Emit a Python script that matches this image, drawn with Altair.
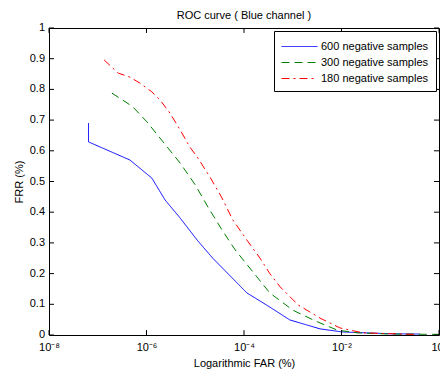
import altair as alt
import pandas as pd

series = ["600 negative samples", "300 negative samples", "180 negative samples"]
colors = ["#0000ff", "#008000", "#ff0000"]
dashes = [[1, 0], [8, 5], [8, 4, 2, 4]]

# log10(FAR) and FRR
blue_logfar = [-7.19, -7.19, -6.34, -5.89, -5.62, -5.31, -4.96, -4.64, -3.94, -3.47, -3.06, -2.44, -1.99, -1.0, -0.39]
blue_frr = [0.69, 0.629, 0.57, 0.511, 0.44, 0.381, 0.309, 0.25, 0.137, 0.091, 0.049, 0.02, 0.01, 0.004, 0.003]

green_logfar = [-6.71, -6.4, -6.28, -5.99, -5.66, -5.31, -5.0, -4.74, -4.45, -4.18, -3.47, -3.0, -2.54, -2.09, -1.68, -1.0, 0.0]
green_frr = [0.788, 0.756, 0.743, 0.694, 0.629, 0.56, 0.489, 0.417, 0.342, 0.277, 0.137, 0.081, 0.046, 0.016, 0.007, 0.003, 0.002]

red_logfar = [-6.87, -6.58, -6.34, -6.13, -5.89, -5.72, -5.52, -5.31, -5.11, -4.96, -4.7, -4.45, -4.23, -3.94, -3.67, -3.47, -3.26, -2.89, -2.44, -2.03, -1.56, -0.5]
red_frr = [0.896, 0.853, 0.84, 0.82, 0.792, 0.765, 0.723, 0.668, 0.612, 0.58, 0.515, 0.446, 0.375, 0.309, 0.25, 0.2, 0.157, 0.098, 0.055, 0.023, 0.007, 0.002]

x_tick_exps = [-8, -6, -4, -2, 0]
y_ticks = [0.0, 0.1, 0.2, 0.3, 0.4, 0.5, 0.6, 0.7, 0.8, 0.9, 1.0]
y_labels = ["0", "0.1", "0.2", "0.3", "0.4", "0.5", "0.6", "0.7", "0.8", "0.9", "1"]
sup = {"-8": "10⁻⁸", "-6": "10⁻⁶", "-4": "10⁻⁴", "-2": "10⁻²", "0": "10⁰"}

rows = []
for name, lx, fy in zip(series, [blue_logfar, green_logfar, red_logfar], [blue_frr, green_frr, red_frr]):
    for i, (a, b) in enumerate(zip(lx, fy)):
        rows.append({"series": name, "far": 10 ** a, "frr": b, "idx": i})
df = pd.DataFrame(rows)

x_ticks = [10.0 ** e for e in x_tick_exps]
expr = "''"
for e in x_tick_exps:
    expr = f"round(log(datum.value)/LN10)=={e} ? '{sup[str(e)]}' : ({expr})"

font = "Liberation Sans"
xscale = alt.Scale(type="log", domain=[1e-8, 1], nice=False)
yscale = alt.Scale(domain=[0, 1], nice=False)
xaxis = alt.Axis(values=x_ticks, labelExpr=expr, tickSize=0, domain=False, grid=False,
                 labelPadding=6, titlePadding=5, labelFlush=False, labelOverlap=False)
yaxis = alt.Axis(labels=False, ticks=False, domain=False, grid=False, titlePadding=25)
xtitle = "Logarithmic FAR (%)"
ytitle = "FRR (%)"

lines = alt.Chart(df).mark_line(strokeWidth=1, clip=True).encode(
    x=alt.X("far:Q", scale=xscale, axis=xaxis, title=xtitle),
    y=alt.Y("frr:Q", scale=yscale, axis=yaxis, title=ytitle),
    color=alt.Color("series:N", scale=alt.Scale(domain=series, range=colors),
                    legend=alt.Legend(title=None)),
    strokeDash=alt.StrokeDash("series:N", scale=alt.Scale(domain=series, range=dashes),
                              legend=alt.Legend(title=None)),
    order="idx:Q",
)

xt = pd.DataFrame({"far": x_ticks})
yt = pd.DataFrame({"frr": y_ticks, "label": y_labels})

tick_b = alt.Chart(xt).mark_rule(color="black", strokeWidth=1).encode(
    x=alt.X("far:Q", scale=xscale, axis=xaxis, title=xtitle), y=alt.datum(0), y2=alt.datum(0.016))
tick_t = alt.Chart(xt).mark_rule(color="black", strokeWidth=1).encode(
    x=alt.X("far:Q", scale=xscale, axis=xaxis, title=xtitle), y=alt.datum(1), y2=alt.datum(0.984))
tick_l = alt.Chart(yt).mark_rule(color="black", strokeWidth=1).encode(
    y=alt.Y("frr:Q", scale=yscale, axis=yaxis, title=ytitle), x=alt.datum(1e-8), x2=alt.datum(1.267e-8))
tick_r = alt.Chart(yt).mark_rule(color="black", strokeWidth=1).encode(
    y=alt.Y("frr:Q", scale=yscale, axis=yaxis, title=ytitle), x=alt.datum(1.0), x2=alt.datum(0.789))
ylab = alt.Chart(yt).mark_text(align="right", baseline="middle", dx=-4, font=font,
                               fontSize=11, color="black").encode(
    y=alt.Y("frr:Q", scale=yscale, axis=yaxis, title=ytitle), x=alt.datum(1e-8), text="label:N")

chart = alt.layer(lines, tick_b, tick_t, tick_l, tick_r, ylab).properties(
    width=390, height=307,
    title=alt.TitleParams("ROC curve ( Blue channel )", fontSize=11, fontWeight="normal",
                          font=font, offset=1, anchor="middle", color="black"),
    padding={"left": 41, "top": 20, "right": 1, "bottom": 35},
    autosize="none",
).configure_view(stroke="black", strokeWidth=1).configure_axis(
    labelFont=font, titleFont=font, labelFontSize=11, titleFontSize=11,
    labelColor="black", titleColor="black", titleFontWeight="normal",
).configure_legend(
    orient="top-right", offset=3, fillColor="white", strokeColor="black", padding=7,
    symbolType="M-1,0H3.5", symbolSize=256, symbolStrokeWidth=1, labelOffset=23,
    labelFont=font, labelFontSize=11, labelColor="black", rowPadding=2, cornerRadius=0,
    labelLimit=300,
)

chart.save("out.html", embed_options={"renderer": "svg", "actions": False})
